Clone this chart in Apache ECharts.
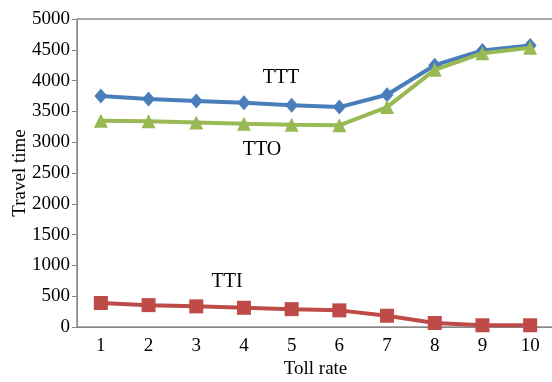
<!DOCTYPE html>
<html>
<head>
<meta charset="utf-8">
<script src="https://cdn.jsdelivr.net/npm/echarts@6/dist/echarts.min.js"></script>
<style>
html,body{margin:0;padding:0;background:#fff;}
#c{width:552px;height:382px;}
</style>
</head>
<body>
<div id="c"></div>
<script>
const categories = ['1','2','3','4','5','6','7','8','9','10'];
const TTT = [3750, 3700, 3670, 3640, 3600, 3570, 3770, 4250, 4490, 4570];
const TTO = [3350, 3340, 3320, 3300, 3285, 3275, 3570, 4175, 4445, 4535];
const TTI = [390, 355, 335, 312, 290, 270, 183, 65, 28, 28];
const yTicks = [0, 500, 1000, 1500, 2000, 2500, 3000, 3500, 4000, 4500, 5000];

const font = 'Liberation Serif';
const chart = echarts.init(document.getElementById('c'), null, {renderer: 'canvas'});
chart.setOption({
  animation: false,
  backgroundColor: '#fff',
  textStyle: {fontFamily: font},
  grid: {left: 77, right: -2, top: 19, bottom: 55, containLabel: false, outerBoundsMode: 'none',
         show: true, borderColor: '#595959', borderWidth: 1, backgroundColor: 'transparent'},
  xAxis: {
    type: 'category',
    data: categories,
    boundaryGap: true,
    name: 'Toll rate',
    nameLocation: 'middle',
    nameGap: 33,
    nameMoveOverlap: false,
    nameTextStyle: {fontFamily: font, fontSize: 19, color: '#000'},
    axisLine: {lineStyle: {color: '#868686', width: 1}},
    axisTick: {alignWithLabel: true, length: 4, lineStyle: {color: '#868686'}},
    axisLabel: {fontFamily: font, fontSize: 19, color: '#000', margin: 10},
    splitLine: {show: false}
  },
  yAxis: {
    type: 'value',
    min: yTicks[0],
    max: yTicks[yTicks.length - 1],
    interval: yTicks[1] - yTicks[0],
    name: 'Travel time',
    nameLocation: 'middle',
    nameGap: 47,
    nameMoveOverlap: false,
    nameTextStyle: {fontFamily: font, fontSize: 19, color: '#000'},
    axisLine: {show: true, lineStyle: {color: '#868686', width: 1}},
    axisTick: {show: true, length: 5, lineStyle: {color: '#868686'}},
    axisLabel: {fontFamily: font, fontSize: 19, color: '#000', margin: 7,
                formatter: function (v) { return String(v); }},
    splitLine: {show: false}
  },
  series: [
    {name: 'TTT', type: 'line', data: TTT, symbol: 'diamond', symbolSize: [13, 15],
     lineStyle: {color: '#4a7ebb', width: 4}, itemStyle: {color: '#4a7ebb'}, z: 3},
    {name: 'TTO', type: 'line', data: TTO, symbol: 'triangle', symbolSize: 14,
     lineStyle: {color: '#98b954', width: 4}, itemStyle: {color: '#98b954'}, z: 4},
    {name: 'TTI', type: 'line', data: TTI, symbol: 'rect', symbolSize: 14,
     lineStyle: {color: '#be4b48', width: 4}, itemStyle: {color: '#be4b48'}, z: 5}
  ],
  graphic: [
    {type: 'text', x: 281, y: 78, style: {text: 'TTT', font: '20px "Liberation Serif"', fill: '#000', align: 'center', verticalAlign: 'middle'}},
    {type: 'text', x: 262, y: 150, style: {text: 'TTO', font: '20px "Liberation Serif"', fill: '#000', align: 'center', verticalAlign: 'middle'}},
    {type: 'text', x: 227, y: 282, style: {text: 'TTI', font: '20px "Liberation Serif"', fill: '#000', align: 'center', verticalAlign: 'middle'}}
  ]
});
</script>
</body>
</html>
